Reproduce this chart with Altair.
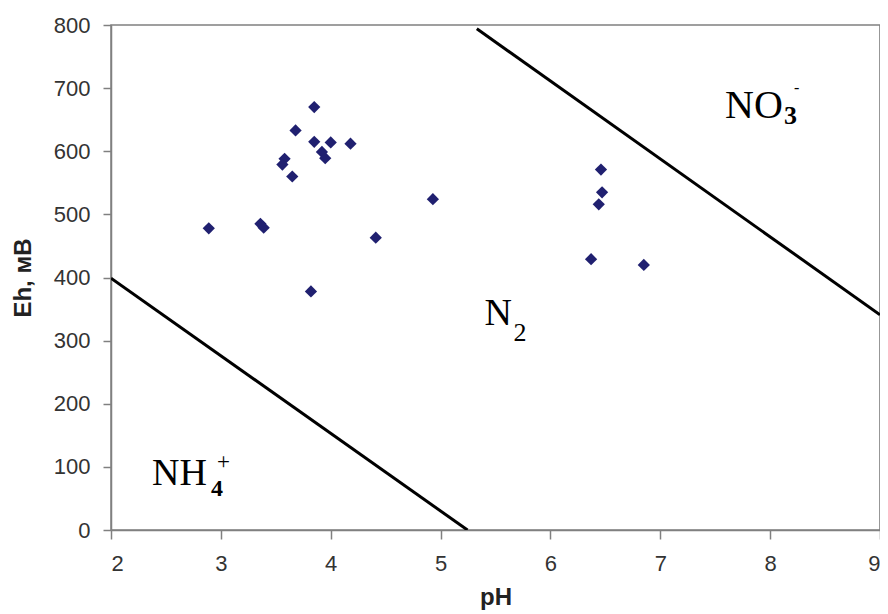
import altair as alt
import pandas as pd

# measured points
ph = [3.85, 3.68, 3.85, 4.00, 4.18, 3.92, 3.95, 3.58, 3.56, 3.65, 4.93,
      2.89, 3.36, 3.39, 4.41, 3.82, 6.46, 6.47, 6.44, 6.37, 6.85]
eh = [670, 633, 615, 614, 612, 599, 589, 588, 579, 560, 524,
      478, 485, 479, 463, 378, 571, 535, 516, 429, 420]

# boundary lines
line_group = ["NH4/N2", "NH4/N2", "N2/NO3", "N2/NO3"]
line_ph = [2.0, 5.245, 5.33, 9.0]
line_eh = [399, 0, 794, 341]

# region labels
label_main = ["NO", "N", "NH"]
label_sub = ["3", "2", "4"]
label_sup = ["-", "", "+"]
label_ph = [7.59, 5.40, 2.373]
label_eh = [652.7, 324.8, 71.3]

x_ticks = [2, 3, 4, 5, 6, 7, 8, 9]
y_ticks = [0, 100, 200, 300, 400, 500, 600, 700, 800]

pts = pd.DataFrame({"pH": ph, "Eh": eh})
lines = pd.DataFrame({"g": line_group, "pH": line_ph, "Eh": line_eh})
labels = pd.DataFrame({"main": label_main, "sub": label_sub, "sup": label_sup,
                       "pH": label_ph, "Eh": label_eh, "i": [0, 1, 2]})

xs = alt.Scale(domain=[2, 9], nice=False, zero=False)
ys = alt.Scale(domain=[0, 800], nice=False)

GRAY = "#808080"
LAB = "#333333"

x_axis = alt.Axis(values=x_ticks, grid=False, tickSize=9, labelPadding=14,
                  titlePadding=11, labelFontSize=22, titleFontSize=24,
                  labelFont="Liberation Sans", titleFont="Liberation Sans",
                  titleFontWeight="bold", labelColor=LAB, titleColor="#222",
                  domainColor=GRAY, tickColor=GRAY, domainWidth=1.5,
                  tickWidth=1.5, format="d")
X = alt.X("pH:Q", scale=xs, title="pH", axis=x_axis)

points = alt.Chart(pts).mark_point(
    shape="diamond", filled=True, size=150, color="#202070", opacity=1
).encode(
    x=X,
    y=alt.Y("Eh:Q", scale=ys, title="Eh, мВ",
            axis=alt.Axis(orient="left", values=y_ticks, grid=False, tickSize=8,
                          labelPadding=13, titlePadding=18, labelFontSize=22,
                          titleFontSize=24, labelFont="Liberation Sans",
                          titleFont="Liberation Sans", titleFontWeight="bold",
                          labelColor=LAB, titleColor="#222", domainColor=GRAY,
                          tickColor=GRAY, domainWidth=1.5, tickWidth=1.5, format="d")),
)

bounds = alt.Chart(lines).mark_line(color="black", strokeWidth=3, clip=True).encode(
    x=X,
    y=alt.Y("Eh:Q", scale=ys,
            axis=alt.Axis(orient="right", values=y_ticks, labels=False, title=None,
                          grid=False, tickSize=6, domainColor=GRAY, tickColor=GRAY,
                          domainWidth=1.5, tickWidth=1.5)),
    detail="g:N",
)

main_size = [40, 38, 38]
sub_size = [26, 26, 24]
sub_dx = [59, 29, 59]
sub_dy = [6, 16, 11]
sub_weight = ["bold", "normal", "bold"]
sup_size = [16, 16, 23]
sup_dx = [69, 0, 65]
sup_dy = [-25, 0, -16]

text_layers = []
for i in range(3):
    base = alt.Chart(labels).transform_filter(alt.datum.i == i)
    enc = dict(x=X, y=alt.Y("Eh:Q", scale=ys, axis=None))
    text_layers.append(base.mark_text(font="Liberation Serif", fontSize=main_size[i],
                                      align="left", baseline="alphabetic", color="black")
                       .encode(text="main:N", **enc))
    text_layers.append(base.mark_text(font="Liberation Serif", fontSize=sub_size[i],
                                      fontWeight=sub_weight[i], align="left",
                                      baseline="alphabetic", color="black",
                                      dx=sub_dx[i], dy=sub_dy[i])
                       .encode(text="sub:N", **enc))
    if label_sup[i]:
        text_layers.append(base.mark_text(font="Liberation Serif", fontSize=sup_size[i],
                                          align="left", baseline="alphabetic",
                                          color="black", dx=sup_dx[i], dy=sup_dy[i])
                           .encode(text="sup:N", **enc))

chart = alt.layer(points, bounds, *text_layers).resolve_axis(y="independent").properties(
    width=769, height=505,
    autosize=alt.AutoSizeParams(type="none"),
    padding={"left": 103, "top": 17, "right": 0, "bottom": 86},
    background="white",
).configure_view(stroke=GRAY, strokeWidth=1.5)

chart.save("out.html", embed_options={"renderer": "svg", "actions": False})
